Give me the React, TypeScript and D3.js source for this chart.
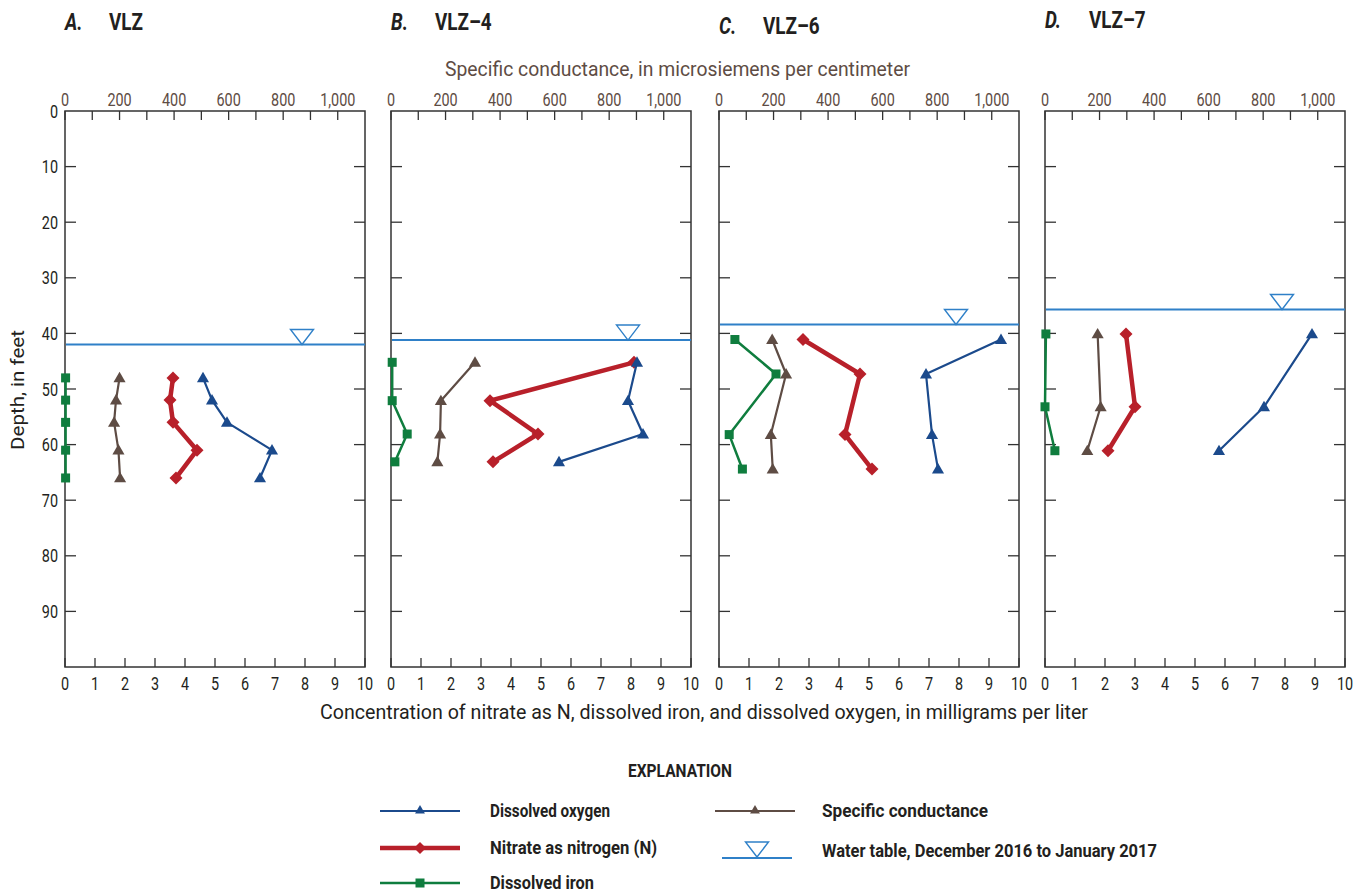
import React from "react";
import * as d3 from "d3";

const width = 1364;
const height = 892;
const plotTop = 111;
const plotH = 556;
const plotW = 300;
const panelLeft = [65, 391, 719, 1045];
const font = "Roboto, 'Liberation Sans', sans-serif";
const ink = "#231f20";

const letters = ["A.", "B.", "C.", "D."];
const wells = ["VLZ", "VLZ–4", "VLZ–6", "VLZ–7"];
const waterTable = [42.0, 41.2, 38.4, 35.7];

// depth of each sample, feet below land surface
const depths = [
  [48, 52, 56, 61, 66],
  [45.2, 52.1, 58.1, 63.1],
  [41.1, 47.3, 58.2, 64.4],
  [40.1, 53.2, 61.1]
];
// mg/L
const oxygen = [
  [4.6, 4.9, 5.4, 6.9, 6.5],
  [8.2, 7.9, 8.4, 5.6],
  [9.4, 6.9, 7.1, 7.3],
  [8.9, 7.3, 5.8]
];
const nitrate = [
  [3.6, 3.5, 3.6, 4.4, 3.7],
  [8.1, 3.3, 4.9, 3.4],
  [2.8, 4.7, 4.2, 5.1],
  [2.7, 3.0, 2.1]
];
const iron = [
  [0.02, 0.02, 0.02, 0.02, 0.02],
  [0.04, 0.04, 0.54, 0.13],
  [0.53, 1.9, 0.34, 0.78],
  [0.03, 0.0, 0.33]
];
// microsiemens per centimeter
const conductance = [
  [200, 187, 180, 196, 202],
  [308, 183, 180, 170],
  [195, 246, 190, 197],
  [193, 204, 155]
];

const depthTicks = [0, 10, 20, 30, 40, 50, 60, 70, 80, 90];
const concTicks = [0, 1, 2, 3, 4, 5, 6, 7, 8, 9, 10];
const scTicks = [0, 100, 200, 300, 400, 500, 600, 700, 800, 900, 1000];
const scLabels = [0, 200, 400, 600, 800, 1000];

const colors = {
  oxygen: "#1b4a8c",
  nitrate: "#b8202a",
  iron: "#0f7d3e",
  sc: "#5e4c44",
  water: "#2f80c8",
  frame: "#333333"
};

const y = d3.scaleLinear().domain([0, 100]).range([plotTop, plotTop + plotH]);

const triUp = (cx: number, cy: number, s: number) =>
  `M${cx},${cy - s * 0.55}L${cx + s * 0.55},${cy + s * 0.4}L${cx - s * 0.55},${cy + s * 0.4}Z`;
const diamond = (cx: number, cy: number, s: number) =>
  `M${cx},${cy - s / 2}L${cx + s / 2},${cy}L${cx},${cy + s / 2}L${cx - s / 2},${cy}Z`;

// condensed-looking text (no narrow font installed)
function CText({ x, y, size, anchor = "start", weight = "normal", fill = ink, sx = 0.8, children }: any) {
  return (
    <text
      transform={`translate(${x} ${y}) scale(${sx} 1)`}
      fontSize={size}
      textAnchor={anchor}
      fontWeight={weight}
      fill={fill}
      fontFamily={font}
    >
      {children}
    </text>
  );
}

function Series({ pts, color, sw, marker }: any) {
  const line = d3.line<[number, number]>().x((d) => d[0]).y((d) => d[1]);
  return (
    <g>
      <path d={line(pts) || ""} fill="none" stroke={color} strokeWidth={sw} strokeLinejoin="round" />
      {marker !== "none" &&
        pts.map((p: [number, number], i: number) => {
          if (marker === "tri") return <path key={i} d={triUp(p[0], p[1], 11)} fill={color} />;
          if (marker === "diamond") return <path key={i} d={diamond(p[0], p[1], 13)} fill={color} />;
          return <rect key={i} x={p[0] - 4.5} y={p[1] - 4.5} width={9} height={9} fill={color} />;
        })}
    </g>
  );
}

function Panel({ i }: { i: number }) {
  const left = panelLeft[i];
  const x = d3.scaleLinear().domain([0, 10]).range([left, left + plotW]);
  const xs = d3.scaleLinear().domain([0, 1100]).range([left, left + plotW]);
  const dp = depths[i];
  const wt = y(waterTable[i]);
  const tx = x(7.9);
  return (
    <g>
      <rect x={left} y={plotTop} width={plotW} height={plotH} fill="none" stroke={colors.frame} strokeWidth={1.5} />
      {scTicks.map((t) => (
        <line key={"st" + t} x1={xs(t)} x2={xs(t)} y1={plotTop} y2={plotTop + 9} stroke={colors.frame} strokeWidth={1.3} />
      ))}
      {scLabels.map((t) => (
        <CText key={"sl" + t} x={xs(t)} y={plotTop - 5} size={18} anchor="middle" fill={colors.sc}>
          {d3.format(",")(t)}
        </CText>
      ))}
      {concTicks.map((t) => (
        <g key={"ct" + t}>
          <line x1={x(t)} x2={x(t)} y1={plotTop + plotH} y2={plotTop + plotH - 9} stroke={colors.frame} strokeWidth={1.3} />
          <CText x={x(t)} y={plotTop + plotH + 23} size={18} anchor="middle">
            {t}
          </CText>
        </g>
      ))}
      {depthTicks.slice(1).map((t) => (
        <g key={"dt" + t}>
          <line x1={left} x2={left + 11} y1={y(t)} y2={y(t)} stroke={colors.frame} strokeWidth={1.3} />
          <line x1={left + plotW} x2={left + plotW - 11} y1={y(t)} y2={y(t)} stroke={colors.frame} strokeWidth={1.3} />
        </g>
      ))}
      {i === 0 &&
        depthTicks.map((t) => (
          <CText key={"dl" + t} x={left - 7} y={y(t) + 6.5} size={18} anchor="end">
            {t}
          </CText>
        ))}
      <line x1={left + 1} x2={left + plotW} y1={wt} y2={wt} stroke={colors.water} strokeWidth={2} />
      <path d={`M${tx - 11.5},${wt - 15}L${tx + 11.5},${wt - 15}L${tx},${wt}Z`} fill="#fff" stroke={colors.water} strokeWidth={1.4} />
      <Series pts={iron[i].map((v, k) => [x(v), y(dp[k])])} color={colors.iron} sw={2.5} marker="square" />
      <Series pts={conductance[i].map((v, k) => [xs(v), y(dp[k])])} color={colors.sc} sw={2.2} marker="tri" />
      <Series pts={nitrate[i].map((v, k) => [x(v), y(dp[k])])} color={colors.nitrate} sw={4.5} marker="diamond" />
      <Series pts={oxygen[i].map((v, k) => [x(v), y(dp[k])])} color={colors.oxygen} sw={2.2} marker="tri" />
      <g>
        <CText x={left} y={[30, 30, 34, 28][i]} size={23} weight="bold" sx={0.82}>
          <tspan fontStyle="italic">{letters[i]}</tspan>
        </CText>
        <CText x={left + 44} y={[30, 30, 34, 28][i]} size={23} weight="bold" sx={0.82}>
          {wells[i]}
        </CText>
      </g>
    </g>
  );
}

function Legend() {
  const rows = [
    { label: "Dissolved oxygen", color: colors.oxygen, sw: 2.2, marker: "tri", x: 380, yy: 811, tl: 120 },
    { label: "Nitrate as nitrogen (N)", color: colors.nitrate, sw: 4.5, marker: "diamond", x: 380, yy: 848, tl: 167 },
    { label: "Dissolved iron", color: colors.iron, sw: 2.5, marker: "square", x: 380, yy: 883, tl: 104 },
    { label: "Specific conductance", color: colors.sc, sw: 2.2, marker: "tri", x: 715, yy: 811, tl: 166 }
  ];
  return (
    <g fontFamily={font} fill={ink}>
      <text x={628} y={777} fontSize={19} fontWeight="bold" textLength={104} lengthAdjust="spacingAndGlyphs">
        EXPLANATION
      </text>
      {rows.map((r) => (
        <g key={r.label}>
          <Series pts={[[r.x, r.yy], [r.x + 80, r.yy]]} color={r.color} sw={r.sw} marker="none" />
          {r.marker === "tri" && <path d={triUp(r.x + 40, r.yy - 1, 9)} fill={r.color} />}
          {r.marker === "diamond" && <path d={diamond(r.x + 40, r.yy, 12)} fill={r.color} />}
          {r.marker === "square" && <rect x={r.x + 35.5} y={r.yy - 4.5} width={9} height={9} fill={r.color} />}
          <text
            x={r.x < 500 ? 490 : 822}
            y={r.yy + 6}
            fontSize={18}
            fontWeight="bold"
            textLength={r.tl}
            lengthAdjust="spacingAndGlyphs"
          >
            {r.label}
          </text>
        </g>
      ))}
      <line x1={722} x2={792} y1={858} y2={858} stroke={colors.water} strokeWidth={2} />
      <path d="M745.5,842L768.5,842L757,857Z" fill="#fff" stroke={colors.water} strokeWidth={1.4} />
      <text x={822} y={857} fontSize={18} fontWeight="bold" textLength={335} lengthAdjust="spacingAndGlyphs">
        Water table, December 2016 to January 2017
      </text>
    </g>
  );
}

export default function App() {
  return (
    <svg width={width} height={height} style={{ position: "absolute", left: 0, top: 0, background: "#fff" }}>
      <rect width={width} height={height} fill="#fff" />
      <text x={445} y={76} fontSize={20} fill={colors.sc} fontFamily={font} textLength={465} lengthAdjust="spacingAndGlyphs">
        Specific conductance, in microsiemens per centimeter
      </text>
      <text x={320} y={719} fontSize={20} fill={ink} fontFamily={font} textLength={768} lengthAdjust="spacingAndGlyphs">
        Concentration of nitrate as N, dissolved iron, and dissolved oxygen, in milligrams per liter
      </text>
      <text
        transform="translate(24 390) rotate(-90)"
        textAnchor="middle"
        fontSize={19}
        fill={ink}
        fontFamily={font}
        textLength={120}
        lengthAdjust="spacingAndGlyphs"
      >
        Depth, in feet
      </text>
      {panelLeft.map((_, i) => (
        <Panel key={i} i={i} />
      ))}
      <Legend />
    </svg>
  );
}
